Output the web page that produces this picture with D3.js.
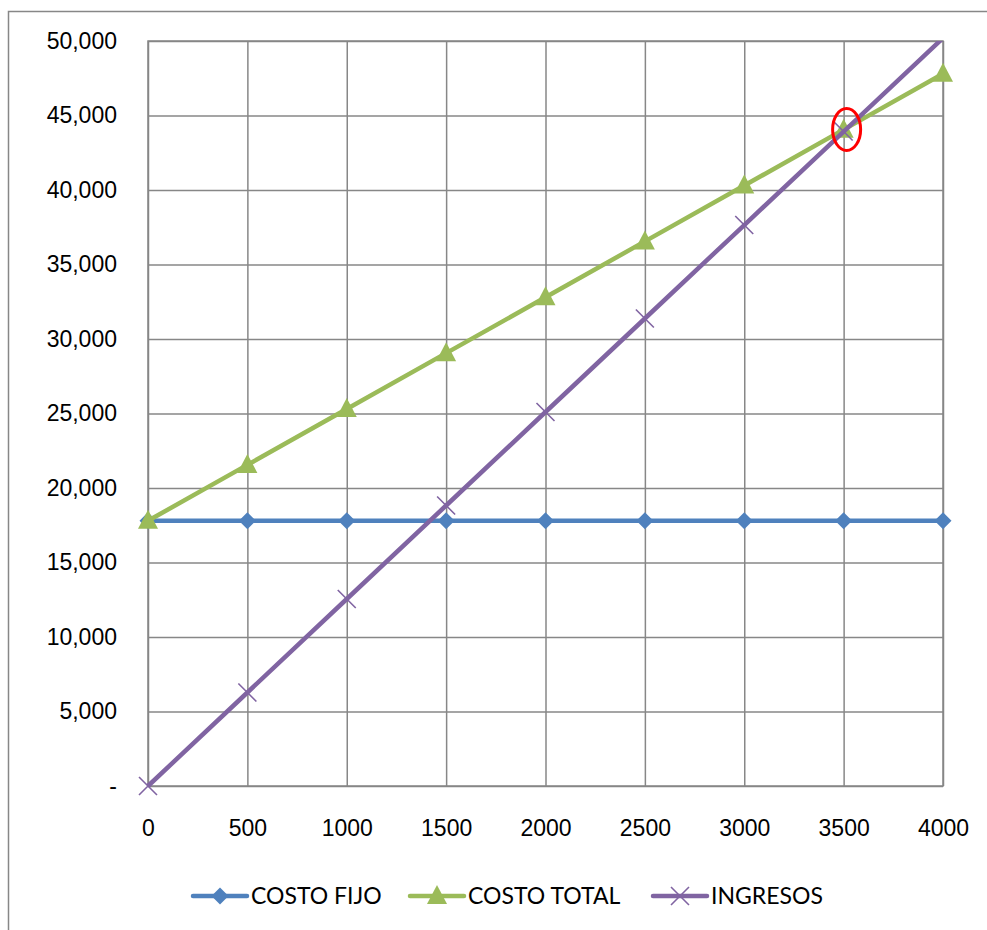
<!DOCTYPE html>
<html>
<head>
<meta charset="utf-8">
<script src="https://cdn.jsdelivr.net/npm/d3@7"></script>
<style>
  body { margin: 0; background: #fff; overflow: hidden; }
  svg { display: block; font-family: Lato, "Open Sans", sans-serif; }
</style>
</head>
<body>
<svg width="987" height="930"></svg>
<script>
// values
const units = [0, 500, 1000, 1500, 2000, 2500, 3000, 3500, 4000];
const costoFijo = [17800, 17800, 17800, 17800, 17800, 17800, 17800, 17800, 17800];
const costoTotal = [17800, 21550, 25300, 29050, 32800, 36550, 40300, 44050, 47800];
const ingresos = [0, 6275, 12550, 18825, 25100, 31375, 37650, 43925, 50200];
const yTicks = [0, 5000, 10000, 15000, 20000, 25000, 30000, 35000, 40000, 45000, 50000];
const seriesNames = ['COSTO FIJO', 'COSTO TOTAL', 'INGRESOS'];
const seriesColors = ['#4F81BD', '#9BBB59', '#8064A2'];
const seriesShapes = ['diamond', 'triangle', 'x'];
const breakEven = { x: 3500, y: 44000 };

const svg = d3.select('svg');
const margin = { top: 41, left: 148, right: 44, bottom: 144 };
const width = +svg.attr('width');
const height = +svg.attr('height');
const innerWidth = width - margin.left - margin.right;
const innerHeight = height - margin.top - margin.bottom;
const grid = '#878787';

// chart border (only top and left show in the picture)
svg.append('path')
    .attr('d', `M8.5,${height}V11.5H${width}`)
    .attr('fill', 'none')
    .attr('stroke', grid)
    .attr('stroke-width', 1.5);

const xScale = d3.scaleLinear().domain([0, 4000]).range([0, innerWidth]);
const yScale = d3.scaleLinear().domain([0, 50000]).range([innerHeight, 0]);

const g = svg.append('g')
    .attr('transform', `translate(${margin.left},${margin.top})`);

const fmt = d => d === 0 ? '-' : d3.format(',')(d);

const yAxis = d3.axisLeft(yScale)
    .tickValues(yTicks)
    .tickSize(-innerWidth)
    .tickPadding(31)
    .tickFormat(fmt);

const xAxis = d3.axisBottom(xScale)
    .tickValues(units)
    .tickSize(-innerHeight)
    .tickPadding(42)
    .tickFormat(d3.format('d'));

const yAxisG = g.append('g').call(yAxis);
const xAxisG = g.append('g')
    .attr('transform', `translate(0,${innerHeight})`)
    .call(xAxis);

[yAxisG, xAxisG].forEach(ax => {
    ax.select('.domain').remove();
    ax.selectAll('.tick line')
        .attr('stroke', grid)
        .attr('stroke-width', 1.5);
    ax.selectAll('.tick text')
        .attr('fill', '#000')
        .style('font-size', '23px');
});
xAxisG.selectAll('.tick text').attr('dy', '0.35em');

g.append('rect')
    .attr('width', innerWidth).attr('height', innerHeight)
    .attr('fill', 'none')
    .attr('stroke', grid)
    .attr('stroke-width', 1.5);

g.append('clipPath').attr('id', 'plot-clip')
  .append('rect')
    .attr('x', -20).attr('y', 0)
    .attr('width', innerWidth + 40).attr('height', innerHeight + 20);

const series = [costoFijo, costoTotal, ingresos].map((values, i) => ({
    name: seriesNames[i],
    color: seriesColors[i],
    shape: seriesShapes[i],
    points: units.map((u, j) => ({ x: u, y: values[j] }))
}));

const line = d3.line()
    .x(d => xScale(d.x))
    .y(d => yScale(d.y));

const marker = (sel, shape, color) => {
    if (shape === 'diamond') {
        sel.append('path')
            .attr('d', 'M0,-8.5L8.5,0L0,8.5L-8.5,0Z')
            .attr('fill', color);
    } else if (shape === 'triangle') {
        sel.append('path')
            .attr('d', 'M0,-11L10,8L-10,8Z')
            .attr('fill', color);
    } else {
        sel.append('path')
            .attr('d', 'M-9,-9L9,9M-9,9L9,-9')
            .attr('stroke', color)
            .attr('stroke-width', 1.6)
            .attr('fill', 'none');
    }
};

const plot = g.append('g').attr('clip-path', 'url(#plot-clip)');

series.forEach(s => {
    const sg = plot.append('g');
    sg.append('path')
        .datum(s.points)
        .attr('d', line)
        .attr('fill', 'none')
        .attr('stroke', s.color)
        .attr('stroke-width', 4.5)
        .attr('stroke-linejoin', 'round');
    sg.selectAll('.mk')
        .data(s.points.filter(d => d.y <= 50000))
      .enter().append('g')
        .attr('class', 'mk')
        .attr('transform', d => `translate(${xScale(d.x)},${yScale(d.y)})`)
        .each(function () { marker(d3.select(this), s.shape, s.color); });
});

// red circle marking the break-even point
g.append('ellipse')
    .attr('cx', xScale(breakEven.x) + 3)
    .attr('cy', yScale(breakEven.y) - 1)
    .attr('rx', 14)
    .attr('ry', 21)
    .attr('fill', 'none')
    .attr('stroke', '#FF0000')
    .attr('stroke-width', 3);

// legend
const legendX = [193, 410, 653];
const legend = svg.append('g').attr('transform', 'translate(0,896)');
series.forEach((s, i) => {
    const lg = legend.append('g').attr('transform', `translate(${legendX[i]},0)`);
    lg.append('line')
        .attr('x1', 0).attr('x2', 54)
        .attr('stroke', s.color)
        .attr('stroke-width', 4.5)
        .attr('stroke-linecap', 'round');
    marker(lg.append('g').attr('transform', 'translate(27,0)'), s.shape, s.color);
    lg.append('text')
        .attr('x', 58)
        .attr('dy', '0.35em')
        .style('font-size', '23px')
        .text(s.name);
});
</script>
</body>
</html>
